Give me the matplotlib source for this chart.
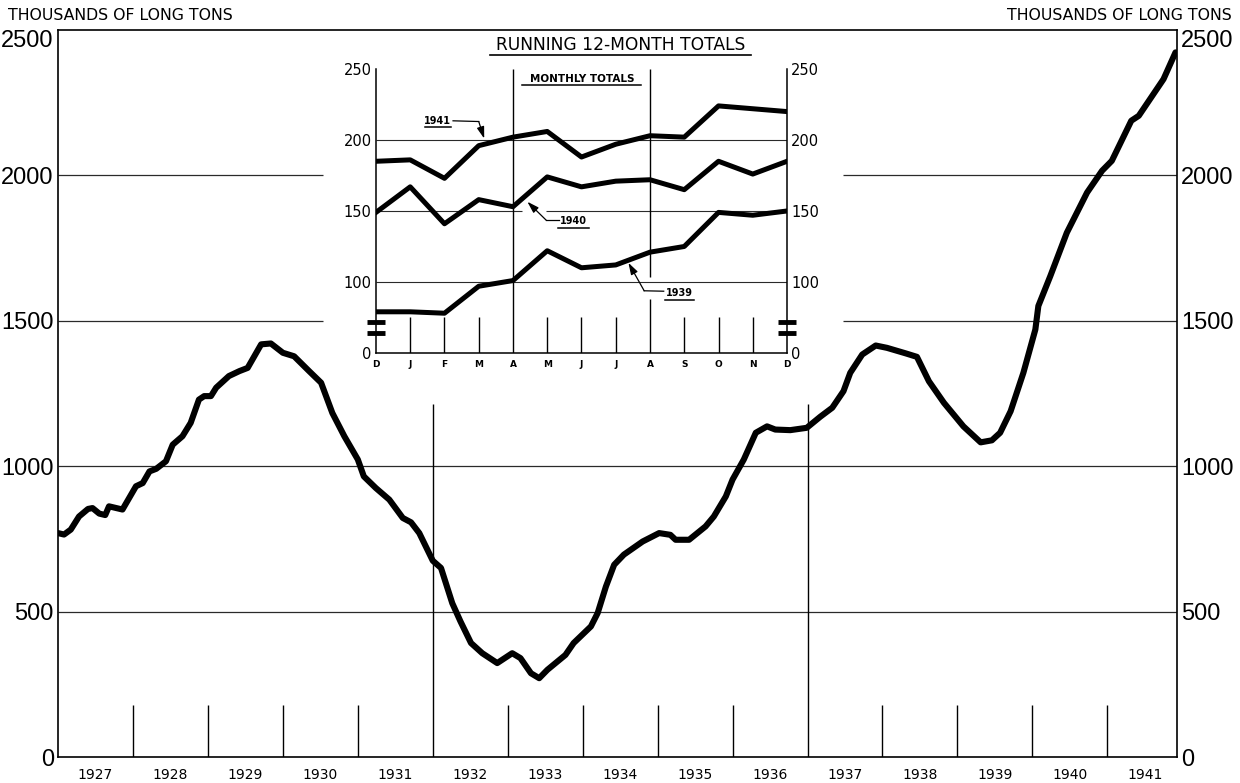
import matplotlib
matplotlib.use('Agg')
import matplotlib.pyplot as plt
from matplotlib.lines import Line2D

# ---------------- data ----------------
years = list(range(1927, 1942))
year_labels = [str(y) for y in years]
major_boundaries = [1932, 1937]

main_x = [1927.00, 1927.08, 1927.17, 1927.28, 1927.40, 1927.46, 1927.55, 1927.63, 1927.68, 1927.86,
          1928.04, 1928.13, 1928.22, 1928.31, 1928.44, 1928.53, 1928.66, 1928.77, 1928.88, 1928.95,
          1929.04, 1929.11, 1929.28, 1929.42, 1929.53, 1929.71, 1929.84, 1930.00, 1930.15, 1930.35,
          1930.51, 1930.66, 1930.82, 1931.00, 1931.08, 1931.24, 1931.42, 1931.60, 1931.71, 1931.82,
          1932.00, 1932.11, 1932.26, 1932.37, 1932.51, 1932.66, 1932.86, 1933.06, 1933.17, 1933.31,
          1933.42, 1933.53, 1933.77, 1933.88, 1934.11, 1934.20, 1934.31, 1934.42, 1934.55, 1934.80,
          1935.02, 1935.17, 1935.24, 1935.42, 1935.64, 1935.75, 1935.91, 1936.00, 1936.15, 1936.31,
          1936.46, 1936.57, 1936.77, 1936.99, 1937.17, 1937.33, 1937.48, 1937.57, 1937.73, 1937.91,
          1938.06, 1938.31, 1938.46, 1938.62, 1938.82, 1939.08, 1939.31, 1939.46, 1939.57, 1939.71,
          1939.88, 1940.04, 1940.08, 1940.24, 1940.46, 1940.73, 1940.93, 1941.06, 1941.32, 1941.42,
          1941.75, 1941.91]
main_y = [770, 765, 782, 827, 853, 856, 837, 832, 862, 851,
          931, 942, 982, 991, 1017, 1074, 1103, 1149, 1229, 1241,
          1241, 1270, 1310, 1327, 1338, 1419, 1422, 1390, 1378, 1327,
          1287, 1183, 1103, 1023, 965, 925, 885, 822, 807, 770,
          675, 650, 529, 466, 392, 357, 323, 357, 340, 288,
          271, 300, 351, 392, 449, 495, 586, 661, 696, 741,
          770, 764, 747, 747, 793, 827, 896, 954, 1023, 1115,
          1137, 1126, 1124, 1132, 1170, 1201, 1258, 1321, 1384, 1415,
          1407, 1388, 1376, 1292, 1218, 1137, 1082, 1089, 1115, 1189,
          1321, 1470, 1551, 1654, 1803, 1941, 2016, 2050, 2188, 2205,
          2331, 2423]
main_yticks = [0, 500, 1000, 1500, 2000, 2500]

months = ['D', 'J', 'F', 'M', 'A', 'M', 'J', 'J', 'A', 'S', 'O', 'N', 'D']
s1941 = [185, 186, 173, 196, 202, 206, 188, 197, 203, 202, 224, 222, 220]
s1940 = [149, 167, 141, 158, 153, 174, 167, 171, 172, 165, 185, 176, 185]
s1939 = [79, 79, 78, 97, 101, 122, 110, 112, 121, 125, 149, 147, 150]
inset_yticks = [50, 100, 150, 200, 250]
inset_ylabels = ['0', '100', '150', '200', '250']

# ---------------- figure ----------------
NUMFONT = ['Liberation Sans', 'DejaVu Sans']
fig = plt.figure(figsize=(12.4, 7.83), dpi=100)
fig.patch.set_facecolor('white')

XMIN, XMAX = 1927.0, 1941.93
ax = fig.add_axes([0.0468, 0.0332, 0.9024, 0.9285])
ax.set_xlim(XMIN, XMAX)
ax.set_ylim(0, 2500)
for sp in ax.spines.values():
    sp.set_linewidth(1.2)
    sp.set_color('black')

gc = '#2a2a2a'
ax.hlines([500, 1000], XMIN, XMAX, color=gc, lw=0.9, zorder=1)
ax.hlines([1500, 2000], XMIN, 1930.53, color=gc, lw=0.9, zorder=1)
ax.hlines([1500, 2000], 1937.48, XMAX, color=gc, lw=0.9, zorder=1)

boundaries = years[1:]
minor_b = [b for b in boundaries if b not in major_boundaries]
ax.vlines(minor_b, 0, 180, color='black', lw=1.0, zorder=1)
ax.vlines(major_boundaries, 0, 1215, color='black', lw=1.0, zorder=1)

ax.plot(main_x, main_y, color='black', lw=4.4, solid_joinstyle='round',
        solid_capstyle='round', zorder=5)

ax.set_xticks([y + 0.5 for y in years])
ax.set_xticklabels(year_labels)
ax.tick_params(axis='x', length=0, pad=8, labelsize=10)
ax.set_yticks(main_yticks)
ax.set_yticklabels([str(v) for v in main_yticks])
ax.tick_params(axis='y', length=0, labelright=True, labelsize=17, pad=3)
for t in ax.yaxis.get_major_ticks():
    t.label1.set_fontfamily(NUMFONT)
    t.label2.set_fontfamily(NUMFONT)
# top labels sit just below the top border, as in the original
top_tick = ax.yaxis.get_major_ticks()[-1]
top_tick.label1.set_verticalalignment('top')
top_tick.label2.set_verticalalignment('top')

fig.text(8 / 1240, 1 - 15 / 783, 'THOUSANDS OF LONG TONS', ha='left', va='center', fontsize=11.3)
fig.text(1232 / 1240, 1 - 15 / 783, 'THOUSANDS OF LONG TONS', ha='right', va='center', fontsize=11.3)

# title of running totals
fig.text(621 / 1240, 1 - 45 / 783, 'RUNNING 12-MONTH TOTALS', ha='center', va='center', fontsize=12.3)
fig.add_artist(Line2D([490 / 1240, 751 / 1240], [1 - 55 / 783, 1 - 55 / 783], color='black', lw=1.2))

# ---------------- inset ----------------
axi = fig.add_axes([0.3032, 0.5492, 0.3315, 0.3627])
axi.set_xlim(0, 12)
axi.set_ylim(50, 250)
axi.spines['top'].set_visible(False)
for s in ['left', 'right', 'bottom']:
    axi.spines[s].set_linewidth(1.1)

idx = list(range(len(months)))
axi.hlines([200, 100], 0, 12, color=gc, lw=0.8, zorder=1)
axi.hlines([150], 0, 4.25, color=gc, lw=0.8, zorder=1)
axi.hlines([150], 4.95, 12, color=gc, lw=0.8, zorder=1)
axi.vlines([4], 50, 250, color='black', lw=1.0, zorder=1)
axi.vlines([8], 50, 88, color='black', lw=1.0, zorder=1)
axi.vlines([8], 103.5, 250, color='black', lw=1.0, zorder=1)
minor_m = [i for i in idx if i not in (0, 4, 8, 12)]
axi.vlines(minor_m, 50, 75.5, color='black', lw=1.0, zorder=1)

for s in (s1941, s1940, s1939):
    axi.plot(idx, s, color='black', lw=3.6, solid_joinstyle='round', zorder=5)

# axis break marks
for xc in (0, 12):
    for yb in (72, 64):
        axi.plot([xc - 0.25, xc + 0.25], [yb, yb], color='black', lw=3.5,
                 solid_capstyle='butt', clip_on=False, zorder=6)

axi.set_xticks(idx)
axi.set_xticklabels(months, fontsize=6.5, fontweight='bold')
axi.tick_params(axis='x', length=0, pad=5)
axi.set_yticks(inset_yticks)
axi.set_yticklabels(inset_ylabels)
axi.tick_params(axis='y', length=0, labelright=True, labelsize=10.5, pad=3)

axi.text(6.03, 243, 'MONTHLY TOTALS', ha='center', va='center', fontsize=7.5, fontweight='bold')
axi.plot([4.25, 7.75], [238.8, 238.8], color='black', lw=1.1)

# labels with arrows
labels = [('1941', (1.80, 213.5), (1.44, 2.19, 208.8),
           [(2.25, 213.5), (3.0, 213.0)], (3.16, 201)),
          ('1940', (5.77, 143.2), (5.31, 6.21, 138.0),
           [(5.35, 143.5), (4.97, 143.5)], (4.42, 156.5)),
          ('1939', (8.85, 92.5), (8.44, 9.27, 87.3),
           [(8.40, 93.5), (7.83, 93.8)], (7.37, 113.5))]
for txt, pos, ul, path, head in labels:
    axi.text(pos[0], pos[1], txt, ha='center', va='center', fontsize=7, fontweight='bold')
    axi.plot([ul[0], ul[1]], [ul[2], ul[2]], color='black', lw=1.1)
    axi.plot([p[0] for p in path], [p[1] for p in path], color='black', lw=0.9)
    axi.annotate('', xy=head, xytext=path[-1],
                 arrowprops=dict(arrowstyle='-|>,head_length=0.7,head_width=0.22',
                                 color='black', lw=0.9, shrinkA=0, shrinkB=0))

fig.savefig('out.png', dpi=100, facecolor='white')
